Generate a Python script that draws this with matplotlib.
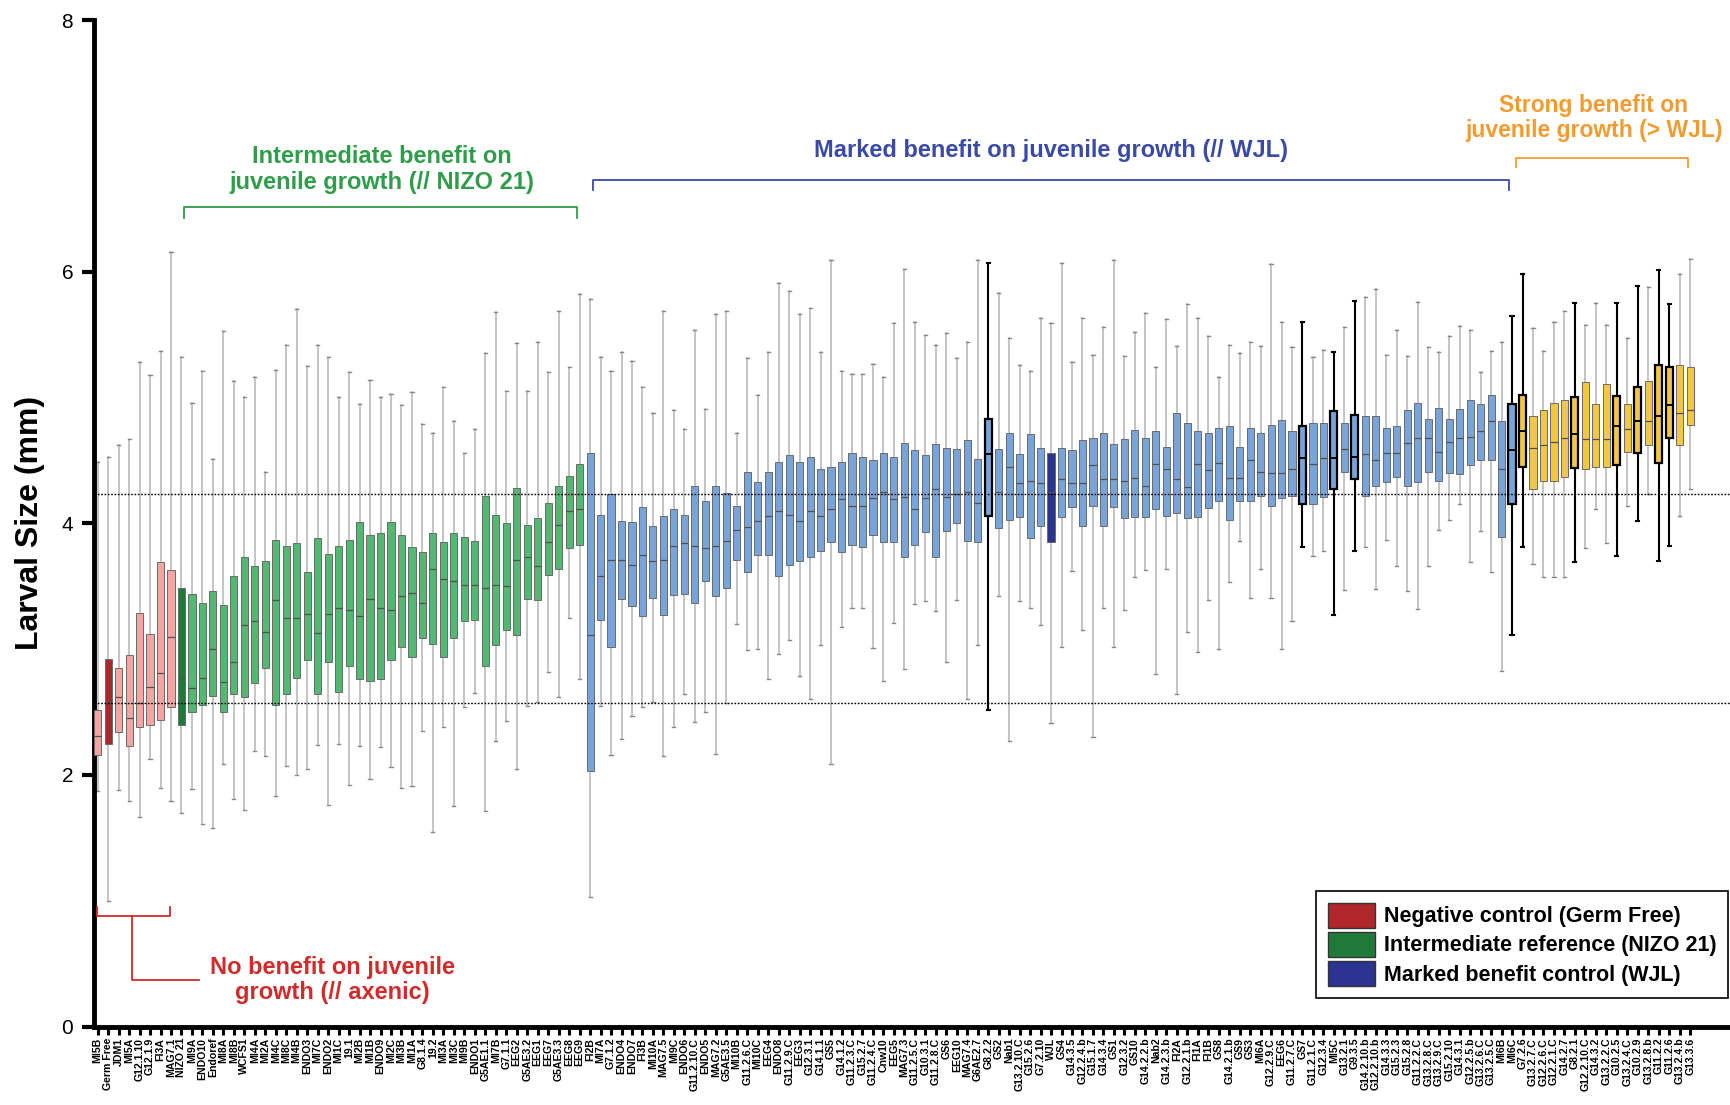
import matplotlib
matplotlib.use("Agg")
import matplotlib.pyplot as plt
from matplotlib.patches import Patch

plt.rcParams['font.family'] = ['Liberation Sans', 'DejaVu Sans']

# strain names, ordered by median larval size
strains = [
    "MI5B", "Germ Free", "JDM1", "MI5A", "G12.1.10", "G12.1.9", "FI3A", "MAG7.1",
    "NIZO 21", "MI9A", "ENDO10", "Endoref", "MI8A", "MI8B", "WCFS1", "MI4A", "MI2A",
    "MI4C", "MI8C", "MI4B", "ENDO3", "MI7C", "ENDO2", "MI1C", "19.1", "MI2B", "MI1B",
    "ENDO9", "MI2C", "MI3B", "MI1A", "G8.1.4", "19.2", "MI3A", "MI3C", "MI9B", "ENDO1",
    "G5AE1.1", "MI7B", "G7.1.1", "EEG2", "G5AE3.2", "EEG1", "EEG7", "G5AE3.3", "EEG8",
    "EEG9", "FI2B", "MI7A", "G7.1.2", "ENDO4", "ENDO7", "FI3B", "MI10A", "MAG7.5",
    "MI9C", "ENDO6", "G11.2.10.C", "ENDO5", "MAG7.2", "G5AE3.5", "MI10B", "G11.2.6.C",
    "MI10C", "EEG4", "ENDO8", "G11.2.9.C", "EEG3", "G12.3.1", "G14.1.1", "GS5",
    "G14.1.2", "G11.2.3.C", "G15.2.7", "G11.2.4.C", "Cnw10", "EEG5", "MAG7.3",
    "G11.2.5.C", "G10.3.1", "G11.2.8.C", "GS6", "EEG10", "MAG7.4", "G6AE2.7", "G8.2.2",
    "GS2", "Nab1", "G13.2.10.C", "G15.2.6", "G7.2.10", "WJL", "GS4", "G14.3.5",
    "G12.2.4.b", "G15.1.7", "G14.3.4", "GS1", "G12.3.2", "GS10", "G14.2.2.b", "Nab2",
    "G14.2.3.b", "FI2A", "G12.2.1.b", "FI1A", "FI1B", "GS8", "G14.2.1.b", "GS9", "GS3",
    "MI6A", "G12.2.9.C", "EEG6", "G11.2.7.C", "GS7", "G11.2.1.C", "G12.3.4", "MI5C",
    "G13.2.1", "G9.3.5", "G14.2.10.b", "G12.2.10.b", "G14.3.3", "G15.2.3", "G15.2.8",
    "G11.2.2.C", "G13.2.8.C", "G13.2.9.C", "G15.2.10", "G14.3.1", "G12.2.5.b",
    "G13.2.6.C", "G13.2.5.C", "MI6B", "MI6C", "G7.2.6", "G13.2.7.C", "G12.2.6.C",
    "G12.2.1.C", "G14.2.7", "G8.2.1", "G12.2.10.C", "G14.3.2", "G13.2.2.C", "G10.2.5",
    "G13.2.4.C", "G10.2.9", "G13.2.8.b", "G11.2.2", "G11.2.6", "G13.2.4.b", "G13.3.6",
]

# box statistics (mm): lower whisker, Q1, median, Q3, upper whisker
whis_lo = [
    1.87, 1.00, 1.88, 1.79, 1.67, 2.13, 1.90, 1.79, 1.70, 1.89, 1.61, 1.58, 2.09, 1.81,
    1.72, 2.19, 2.15, 1.83, 2.07, 2.00, 2.05, 2.24, 1.76, 2.25, 1.92, 2.23, 1.97, 2.22,
    2.06, 1.90, 1.91, 2.35, 1.55, 2.38, 1.75, 2.54, 2.65, 1.71, 2.27, 2.43, 2.05, 2.55,
    2.58, 2.82, 2.62, 3.25, 2.76, 1.03, 2.55, 2.16, 2.29, 2.47, 2.54, 2.58, 2.15, 2.38,
    2.64, 2.42, 2.50, 2.17, 2.57, 3.20, 2.99, 3.00, 2.76, 2.96, 3.07, 2.79, 2.60, 3.03,
    2.09, 3.18, 3.33, 3.33, 3.01, 2.75, 3.21, 2.84, 3.36, 3.38, 3.30, 2.90, 3.39, 2.60,
    3.03, 2.52, 3.42, 2.27, 3.38, 3.33, 3.19, 2.41, 3.02, 3.62, 3.15, 2.30, 3.33, 3.02,
    3.31, 3.57, 3.63, 2.80, 3.64, 2.64, 3.14, 2.98, 3.39, 3.00, 3.53, 3.86, 3.41, 3.64,
    3.41, 3.00, 3.22, 3.81, 3.74, 3.78, 3.27, 3.47, 3.78, 3.81, 3.48, 3.87, 3.66, 3.46,
    3.32, 3.66, 3.95, 4.03, 4.15, 3.69, 3.94, 3.61, 2.83, 3.11, 3.81, 3.68, 3.57, 3.57,
    3.57, 3.69, 3.80, 4.11, 3.84, 3.74, 4.14, 4.02, 4.23, 3.70, 3.82, 4.06, 4.27,
]
q1 = [
    2.16, 2.25, 2.34, 2.23, 2.38, 2.40, 2.44, 2.54, 2.40, 2.50, 2.56, 2.63, 2.50, 2.64,
    2.62, 2.73, 2.85, 2.56, 2.64, 2.77, 2.91, 2.64, 2.90, 2.66, 2.87, 2.76, 2.75, 2.76,
    2.91, 3.02, 2.94, 3.09, 3.04, 2.94, 3.09, 3.22, 3.23, 2.87, 3.03, 3.15, 3.11, 3.40,
    3.39, 3.59, 3.64, 3.80, 3.83, 2.03, 3.23, 3.02, 3.40, 3.34, 3.26, 3.41, 3.27, 3.43,
    3.44, 3.37, 3.54, 3.42, 3.49, 3.71, 3.61, 3.75, 3.75, 3.58, 3.67, 3.70, 3.73, 3.78,
    3.85, 3.77, 3.83, 3.81, 3.91, 3.85, 3.85, 3.73, 3.83, 3.93, 3.73, 3.94, 4.00, 3.86,
    3.85, 4.06, 3.96, 4.03, 4.05, 3.88, 3.98, 3.85, 4.05, 4.13, 3.98, 4.14, 3.98, 4.13,
    4.04, 4.05, 4.05, 4.11, 4.06, 4.08, 4.04, 4.05, 4.12, 4.18, 4.03, 4.18, 4.18, 4.22,
    4.14, 4.20, 4.22, 4.15, 4.15, 4.21, 4.27, 4.41, 4.35, 4.22, 4.30, 4.33, 4.37, 4.30,
    4.33, 4.41, 4.34, 4.40, 4.39, 4.46, 4.50, 4.50, 3.89, 4.15, 4.45, 4.27, 4.34, 4.34,
    4.37, 4.44, 4.43, 4.45, 4.45, 4.46, 4.57, 4.56, 4.62, 4.48, 4.68, 4.62, 4.78,
]
median = [
    2.31, 2.57, 2.62, 2.45, 2.57, 2.70, 2.81, 3.10, 2.77, 2.69, 2.77, 3.00, 2.74, 2.90,
    3.19, 3.22, 3.14, 3.39, 3.25, 3.25, 3.28, 3.13, 3.28, 3.33, 3.31, 3.26, 3.40, 3.33,
    3.31, 3.42, 3.45, 3.37, 3.64, 3.56, 3.54, 3.51, 3.51, 3.49, 3.51, 3.50, 3.71, 3.73,
    3.66, 3.85, 3.99, 4.10, 4.11, 3.11, 3.58, 3.71, 3.71, 3.67, 3.75, 3.70, 3.71, 3.82,
    3.84, 3.82, 3.80, 3.82, 3.86, 3.95, 3.97, 4.02, 4.06, 4.10, 4.07, 4.02, 4.10, 4.06,
    4.11, 4.19, 4.14, 4.14, 4.20, 4.25, 4.19, 4.21, 4.11, 4.20, 4.27, 4.21, 4.23, 4.25,
    4.16, 4.55, 4.25, 4.45, 4.32, 4.34, 4.32, 4.25, 4.35, 4.32, 4.32, 4.46, 4.35, 4.35,
    4.34, 4.36, 4.30, 4.47, 4.43, 4.35, 4.29, 4.47, 4.42, 4.48, 4.36, 4.36, 4.50, 4.41,
    4.40, 4.40, 4.43, 4.52, 4.47, 4.52, 4.52, 4.59, 4.53, 4.55, 4.50, 4.56, 4.56, 4.64,
    4.68, 4.68, 4.57, 4.65, 4.68, 4.69, 4.73, 4.81, 4.43, 4.58, 4.73, 4.60, 4.62, 4.65,
    4.68, 4.71, 4.67, 4.67, 4.67, 4.77, 4.75, 4.81, 4.81, 4.85, 4.94, 4.88, 4.90,
]
q3 = [
    2.52, 2.92, 2.85, 2.95, 3.29, 3.12, 3.69, 3.63, 3.49, 3.44, 3.37, 3.46, 3.35, 3.58,
    3.73, 3.66, 3.70, 3.87, 3.82, 3.84, 3.61, 3.88, 3.76, 3.82, 3.87, 4.01, 3.91, 3.92,
    4.01, 3.91, 3.81, 3.77, 3.92, 3.85, 3.92, 3.89, 3.86, 4.22, 4.07, 4.00, 4.28, 3.99,
    4.04, 4.16, 4.30, 4.38, 4.47, 4.56, 4.07, 4.23, 4.02, 4.01, 4.13, 3.98, 4.06, 4.11,
    4.07, 4.30, 4.18, 4.30, 4.24, 4.14, 4.41, 4.33, 4.41, 4.49, 4.54, 4.49, 4.53, 4.43,
    4.45, 4.49, 4.56, 4.53, 4.50, 4.56, 4.53, 4.64, 4.58, 4.54, 4.63, 4.60, 4.59, 4.66,
    4.51, 4.83, 4.59, 4.72, 4.55, 4.71, 4.60, 4.56, 4.60, 4.58, 4.66, 4.68, 4.72, 4.63,
    4.67, 4.74, 4.68, 4.73, 4.61, 4.88, 4.80, 4.73, 4.72, 4.76, 4.77, 4.61, 4.76, 4.72,
    4.78, 4.82, 4.73, 4.77, 4.80, 4.80, 4.89, 4.80, 4.86, 4.85, 4.85, 4.76, 4.77, 4.90,
    4.96, 4.83, 4.92, 4.83, 4.91, 4.98, 4.95, 5.02, 4.81, 4.95, 5.02, 4.85, 4.90, 4.96,
    4.98, 5.00, 5.12, 4.95, 5.11, 5.01, 4.95, 5.08, 5.13, 5.26, 5.24, 5.26, 5.24,
]
whis_hi = [
    4.49, 4.53, 4.62, 4.67, 5.28, 5.18, 5.37, 6.16, 5.32, 4.96, 5.21, 4.51, 5.53, 5.13,
    5.00, 5.16, 4.41, 5.22, 5.42, 5.70, 5.25, 5.42, 5.32, 5.00, 5.20, 4.95, 5.14, 5.00,
    5.03, 4.94, 5.04, 4.79, 4.72, 5.08, 4.81, 4.56, 4.75, 5.35, 5.68, 5.05, 5.43, 5.05,
    5.44, 5.20, 5.69, 5.24, 5.82, 5.78, 5.32, 5.21, 5.36, 5.29, 5.08, 4.88, 5.69, 4.90,
    4.75, 5.54, 4.91, 5.66, 5.69, 4.72, 5.31, 5.02, 5.36, 5.91, 5.85, 5.66, 5.71, 5.36,
    6.09, 5.21, 5.19, 5.19, 5.27, 5.16, 5.59, 6.02, 5.60, 5.50, 5.42, 5.51, 5.31, 5.44,
    6.09, 6.07, 5.83, 5.47, 5.26, 5.21, 5.63, 5.59, 6.07, 5.28, 5.63, 5.34, 5.56, 6.09,
    5.33, 5.52, 5.67, 5.24, 5.62, 5.41, 5.74, 5.63, 5.49, 5.16, 5.42, 5.35, 5.44, 5.41,
    6.06, 5.60, 5.40, 5.60, 5.32, 5.38, 5.36, 5.56, 5.77, 5.80, 5.86, 5.34, 5.54, 5.33,
    5.76, 5.40, 5.36, 5.49, 5.57, 5.54, 5.20, 5.37, 5.44, 5.65, 5.98, 5.55, 5.37, 5.60,
    5.69, 5.75, 5.58, 5.75, 5.58, 5.75, 5.47, 5.89, 5.88, 6.01, 5.74, 5.98, 6.10,
]

# number of strains in each benefit class, left to right
class_sizes = [8, 39, 89, 17]
class_colors = ["#f4a5a2", "#52b872", "#79a4da", "#f2c646"]

# reference strains drawn in a darker shade
controls = {"Germ Free": "#b0262a", "NIZO 21": "#1f7a3a", "WJL": "#2b3591"}
# strains outlined in black
outlined = ["G8.2.2", "GS7", "MI5C", "G9.3.5", "MI6C", "G7.2.6", "G8.2.1",
            "G10.2.5", "G10.2.9", "G11.2.2", "G11.2.6"]

# reference levels (mean of WJL / Germ Free)
ref_levels = [4.23, 2.57]


def box_colors():
    colors = []
    for size, col in zip(class_sizes, class_colors):
        colors += [col] * size
    for i, name in enumerate(strains):
        if name in controls:
            colors[i] = controls[name]
    return colors


def plot_boxes(ax):
    stats = []
    for i in range(len(strains)):
        stats.append(dict(whislo=whis_lo[i], q1=q1[i], med=median[i],
                          q3=q3[i], whishi=whis_hi[i], fliers=[]))
    pos = list(range(len(strains)))
    bp = ax.bxp(stats, positions=pos, widths=0.68, capwidths=0.3,
                patch_artist=True, showfliers=False, manage_ticks=False)

    colors = box_colors()
    for i, name in enumerate(strains):
        dark = name in outlined
        edge = "black" if dark else "#6a6a6a"
        wcol = "black" if dark else "#b4b4b4"
        box = bp["boxes"][i]
        box.set_facecolor(colors[i])
        box.set_edgecolor(edge)
        box.set_linewidth(1.6 if dark else 0.7)
        box.set_zorder(3)
        bp["medians"][i].set_color("black" if dark else "#505050")
        bp["medians"][i].set_linewidth(1.4 if dark else 0.9)
        bp["medians"][i].set_zorder(4)
        for k in (2 * i, 2 * i + 1):
            bp["whiskers"][k].set_color(wcol)
            bp["whiskers"][k].set_linewidth(1.5 if dark else 1.1)
            bp["caps"][k].set_color("black" if dark else "#888888")
            bp["caps"][k].set_linewidth(1.5 if dark else 1.0)


def bracket(ax, x0, x1, y, tick, color):
    ax.plot([x0, x0, x1, x1], [y + tick, y, y, y + tick], color=color,
            lw=1.3, clip_on=False, zorder=5)


def main():
    fig = plt.figure(figsize=(17.31, 11.05), dpi=100)
    ax = fig.add_axes([0.0543, 0.0709, 0.9457, 0.911])

    plot_boxes(ax)

    for lvl in ref_levels:
        ax.axhline(lvl, color="black", lw=1.0, ls=(0, (1.2, 1.2)), zorder=5)

    ax.set_xlim(-0.35, 155.9)
    ax.set_ylim(0, 8)
    ax.set_yticks([0, 2, 4, 6, 8])
    ax.tick_params(axis="y", length=9, width=3, labelsize=15, pad=6)
    ax.set_xticks(range(len(strains)))
    ax.set_xticklabels(strains, rotation=90, fontsize=7.6, fontweight="bold")
    ax.tick_params(axis="x", length=6, width=2.2, pad=2)
    ax.set_ylabel("Larval Size (mm)", fontsize=23, fontweight="bold", labelpad=12)

    for side in ("top", "right"):
        ax.spines[side].set_visible(False)
    ax.spines["left"].set_linewidth(3.5)
    ax.spines["bottom"].set_linewidth(3.5)

    # group annotations
    green = "#2f9d4a"
    blue = "#3a4aa6"
    orange = "#f29b30"
    red = "#d22b2b"
    fs = 17
    bracket(ax, 8.2, 45.8, 6.51, -0.08, green)
    ax.text(27.1, 6.81, "Intermediate benefit on\njuvenile growth (// NIZO 21)",
            color=green, fontsize=fs, fontweight="bold", ha="center", va="center",
            linespacing=1.15)
    bracket(ax, 47.3, 134.7, 6.73, -0.08, blue)
    ax.text(91.0, 6.96, "Marked benefit on juvenile growth (// WJL)",
            color=blue, fontsize=fs, fontweight="bold", ha="center", va="center")
    bracket(ax, 135.4, 151.8, 6.90, -0.07, orange)
    ax.text(142.8, 7.22, "Strong benefit on\njuvenile growth (> WJL)",
            color=orange, fontsize=16.5, fontweight="bold", ha="center", va="center",
            linespacing=1.15)

    bracket(ax, -0.05, 6.9, 0.88, 0.07, red)
    ax.plot([3.3, 3.3, 9.7], [0.88, 0.37, 0.37], color=red, lw=1.3, zorder=5)
    ax.text(22.4, 0.37, "No benefit on juvenile\ngrowth (// axenic)",
            color=red, fontsize=fs, fontweight="bold", ha="center", va="center",
            linespacing=1.15)

    handles = [Patch(facecolor=controls["Germ Free"], edgecolor="#333333"),
               Patch(facecolor=controls["NIZO 21"], edgecolor="#333333"),
               Patch(facecolor=controls["WJL"], edgecolor="#333333")]
    names = ["Negative control (Germ Free)", "Intermediate reference (NIZO 21)",
             "Marked benefit control (WJL)"]
    leg = ax.legend(handles, names, loc="lower left", bbox_to_anchor=(0.74, 0.018),
                    prop={"weight": "bold", "size": 15.5},
                    frameon=True, fancybox=False, framealpha=1, edgecolor="black",
                    handlelength=2.2, handleheight=1.4, handletextpad=0.4,
                    labelspacing=0.2, borderpad=0.55)
    leg.get_frame().set_linewidth(1.2)
    leg.set_zorder(6)

    plt.savefig("out.png", dpi=100)


main()
